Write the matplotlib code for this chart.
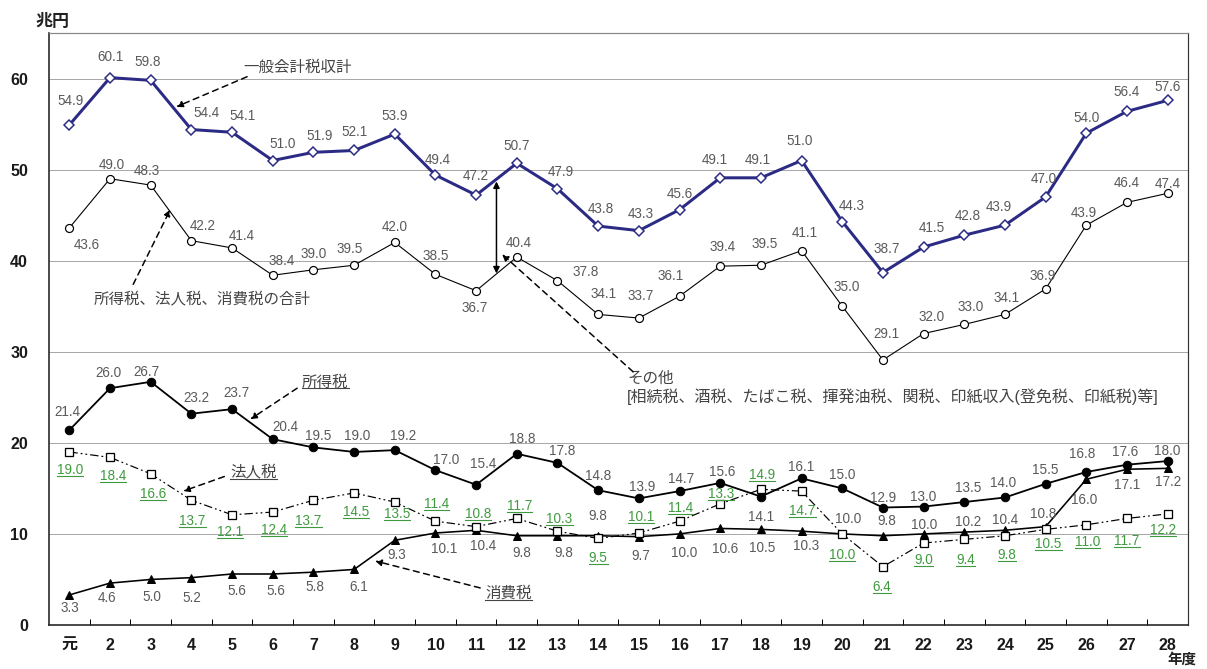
import matplotlib
matplotlib.use("Agg")
import matplotlib.pyplot as plt
from matplotlib.lines import Line2D
import numpy as np

plt.rcParams["font.family"] = ["Liberation Sans", "Noto Sans CJK JP", "DejaVu Sans"]

# 年度
years = ["元"] + [str(i) for i in range(2, 29)]

# 兆円
general_total = [54.9, 60.1, 59.8, 54.4, 54.1, 51.0, 51.9, 52.1, 53.9, 49.4,
                 47.2, 50.7, 47.9, 43.8, 43.3, 45.6, 49.1, 49.1, 51.0, 44.3,
                 38.7, 41.5, 42.8, 43.9, 47.0, 54.0, 56.4, 57.6]
three_taxes = [43.6, 49.0, 48.3, 42.2, 41.4, 38.4, 39.0, 39.5, 42.0, 38.5,
               36.7, 40.4, 37.8, 34.1, 33.7, 36.1, 39.4, 39.5, 41.1, 35.0,
               29.1, 32.0, 33.0, 34.1, 36.9, 43.9, 46.4, 47.4]
income_tax = [21.4, 26.0, 26.7, 23.2, 23.7, 20.4, 19.5, 19.0, 19.2, 17.0,
              15.4, 18.8, 17.8, 14.8, 13.9, 14.7, 15.6, 14.1, 16.1, 15.0,
              12.9, 13.0, 13.5, 14.0, 15.5, 16.8, 17.6, 18.0]
corporate_tax = [19.0, 18.4, 16.6, 13.7, 12.1, 12.4, 13.7, 14.5, 13.5, 11.4,
                 10.8, 11.7, 10.3, 9.5, 10.1, 11.4, 13.3, 14.9, 14.7, 10.0,
                 6.4, 9.0, 9.4, 9.8, 10.5, 11.0, 11.7, 12.2]
consumption_tax = [3.3, 4.6, 5.0, 5.2, 5.6, 5.6, 5.8, 6.1, 9.3, 10.1,
                   10.4, 9.8, 9.8, 9.8, 9.7, 10.0, 10.6, 10.5, 10.3, 10.0,
                   9.8, 10.0, 10.2, 10.4, 10.8, 16.0, 17.1, 17.2]

# label offsets in pixels (dx right, dy down) from each marker
general_off = [(1, -24), (0, -21), (-3, -18), (15, -17), (10, -16), (10, -17), (6, -16),
               (0, -18), (0, -18), (2, -15), (0, -19), (0, -17), (3, -17), (3, -17),
               (2, -17), (0, -16), (-5, -18), (-3, -18), (-2, -20), (10, -16), (4, -24),
               (8, -19), (4, -19), (-6, -18), (-2, -18), (0, -15), (0, -19), (0, -13)]
three_off = [(17, 17), (2, -14), (-4, -14), (11, -15), (10, -12), (9, -14), (0, -16),
             (-4, -16), (0, -15), (0, -18), (-1, 17), (2, -14), (28, -9), (5, -20),
             (2, -22), (-9, -20), (2, -19), (4, -21), (3, -18), (5, -19), (4, -26),
             (8, -17), (6, -17), (2, -16), (-3, -13), (-2, -12), (0, -19), (0, -9)]
income_off = [(-2, -18), (-2, -15), (-4, -10), (5, -16), (4, -16), (13, -12), (5, -11),
              (3, -16), (8, -14), (11, -10), (7, -21), (5, -15), (5, -12), (0, -14),
              (3, -11), (2, -12), (2, -11), (0, 20), (0, -11), (0, -13), (0, -10),
              (0, -10), (4, -14), (-2, -14), (0, -14), (-4, -18), (-2, -13), (0, -10)]
corporate_off = [(1, 18), (3, 19), (2, 20), (1, 21), (-2, 17), (1, 18), (-5, 21), (2, 19),
                 (2, 12), (1, -17), (2, -13), (3, -12), (2, -12), (0, 20), (2, -16),
                 (1, -13), (1, -10), (1, -14), (1, 20), (0, 21), (-1, 20), (0, 17),
                 (1, 21), (2, 19), (3, 15), (1, 17), (0, 23), (-5, 16)]
consumption_off = [(1, 13), (-3, 15), (1, 18), (0, 20), (5, 17), (3, 17), (2, 15), (5, 18),
                   (2, 15), (9, 16), (7, 16), (5, 17), (6, 17), (0, -20), (2, 19), (5, 19),
                   (5, 21), (1, 19), (5, 15), (6, -15), (4, -15), (1, -9), (4, -10),
                   (0, -10), (-2, -13), (-2, 21), (0, 16), (0, 14)]

DPI = 72
W, H = 1207, 669
fig = plt.figure(figsize=(W / DPI, H / DPI), dpi=DPI)
ax = fig.add_axes([49 / W, 1 - 625 / H, (1188 - 49) / W, (625 - 33) / H])

x = np.arange(len(years))
ax.set_xlim(-0.5, len(years) - 0.5)
ax.set_ylim(0, 65)

ax.set_yticks(range(0, 70, 10))
ax.set_xticks(x)
ax.set_xticklabels(years)
ax.set_xticks(np.arange(0.5, len(years) - 1, 1), minor=True)
ax.tick_params(axis="y", length=0, pad=21, labelsize=16)
ax.tick_params(axis="x", which="major", length=0, pad=13, labelsize=16)
ax.tick_params(axis="x", which="minor", direction="in", length=6, width=1, color="black")
for lab in ax.get_xticklabels() + ax.get_yticklabels():
    lab.set_fontweight("bold")
    lab.set_color("#1a1a1a")

ax.grid(axis="y", color="#a8a8a8", lw=1)
ax.set_axisbelow(True)
ax.spines["left"].set(color="#222222", lw=1.6)
ax.spines["bottom"].set(color="#222222", lw=1.6)
ax.spines["top"].set(color="#888888", lw=1.2)
ax.spines["right"].set(color="#333333", lw=1.2)

navy = "#2b2b85"
ax.plot(x, consumption_tax, color="black", lw=1.6, marker="^", ms=8,
        mfc="black", mec="black", zorder=3)
ax.plot(x, corporate_tax, color="black", lw=1.2, ls=(0, (7, 2.5, 1.5, 2.5, 1.5, 2.5)),
        marker="s", ms=7.5, mfc="white", mec="black", mew=1.3, zorder=4)
ax.plot(x, income_tax, color="black", lw=1.8, marker="o", ms=8.5,
        mfc="black", mec="black", zorder=3)
ax.plot(x, three_taxes, color="black", lw=1.1, marker="o", ms=8,
        mfc="white", mec="black", mew=1.2, zorder=3)
ax.plot(x, general_total, color=navy, lw=3, marker="D", ms=7.5,
        mfc="white", mec=navy, mew=1.5, zorder=5)

label_gray = "#5a5a5a"
green = "#3f9a3f"
underlined = []


def put_labels(vals, offs, color, underline=False):
    for i, (v, (dx, dy)) in enumerate(zip(vals, offs)):
        t = ax.annotate(f"{v:.1f}", (i, v), xytext=(dx, -dy), textcoords="offset points",
                        ha="center", va="center", fontsize=13.5, color=color, zorder=6)
        if underline:
            underlined.append((t, color))


put_labels(general_total, general_off, label_gray)
put_labels(three_taxes, three_off, label_gray)
put_labels(income_tax, income_off, label_gray)
put_labels(corporate_tax, corporate_off, green, underline=True)
put_labels(consumption_tax, consumption_off, label_gray)

# annotations
note_color = "#444444"
dash_arrow = dict(arrowstyle="-|>", linestyle=(0, (4, 3)), lw=1.5, color="black",
                  mutation_scale=13, shrinkA=0, shrinkB=0)


def note(text, xy_text, xy_tip, tail, underline=False, fs=15.5):
    t = ax.text(*xy_text, text, ha="left", va="center", fontsize=fs, color=note_color,
                zorder=7)
    ax.annotate("", xy=xy_tip, xytext=tail, arrowprops=dash_arrow, zorder=7)
    if underline:
        underlined.append((t, note_color))
    return t


note("一般会計税収計", (4.28, 61.2), (2.63, 56.9), (4.37, 60.2))
note("所得税、法人税、消費税の合計", (0.59, 35.7), (2.48, 45.6), (1.57, 37.4))
note("その他", (13.73, 27.1), (10.64, 40.7), (13.86, 27.8))
ax.text(13.71, 25.05, "[相続税、酒税、たばこ税、揮発油税、関税、印紙収入(登免税、印紙税)等]",
        ha="left", va="center", fontsize=16, color=note_color, zorder=7)
note("所得税", (5.72, 26.7), (4.45, 22.6), (5.60, 26.0), underline=True)
note("法人税", (3.96, 16.7), (2.80, 14.7), (3.81, 16.3), underline=True)
note("消費税", (10.22, 3.5), (7.52, 7.03), (10.10, 4.07), underline=True)

ax.annotate("", xy=(10.5, 48.7), xytext=(10.5, 38.6),
            arrowprops=dict(arrowstyle="<|-|>", lw=1.5, color="black",
                            mutation_scale=13, shrinkA=0, shrinkB=0), zorder=7)

fig.text(53 / W, 1 - 21 / H, "兆円", ha="center", va="center", fontsize=17,
         fontweight="bold", color="#222222")
fig.text(1182 / W, 2 / H, "年度", ha="center", va="bottom", fontsize=14.5,
         fontweight="bold", color="#222222")

# underline marked texts
fig.canvas.draw()
renderer = fig.canvas.get_renderer()
for t, col in underlined:
    bb = t.get_window_extent(renderer)
    y = bb.y0 + 1
    fig.add_artist(Line2D([bb.x0 / W, bb.x1 / W], [y / H, y / H],
                          transform=fig.transFigure, color=col, lw=1.1))

fig.savefig("out.png", dpi=DPI, facecolor="white")
